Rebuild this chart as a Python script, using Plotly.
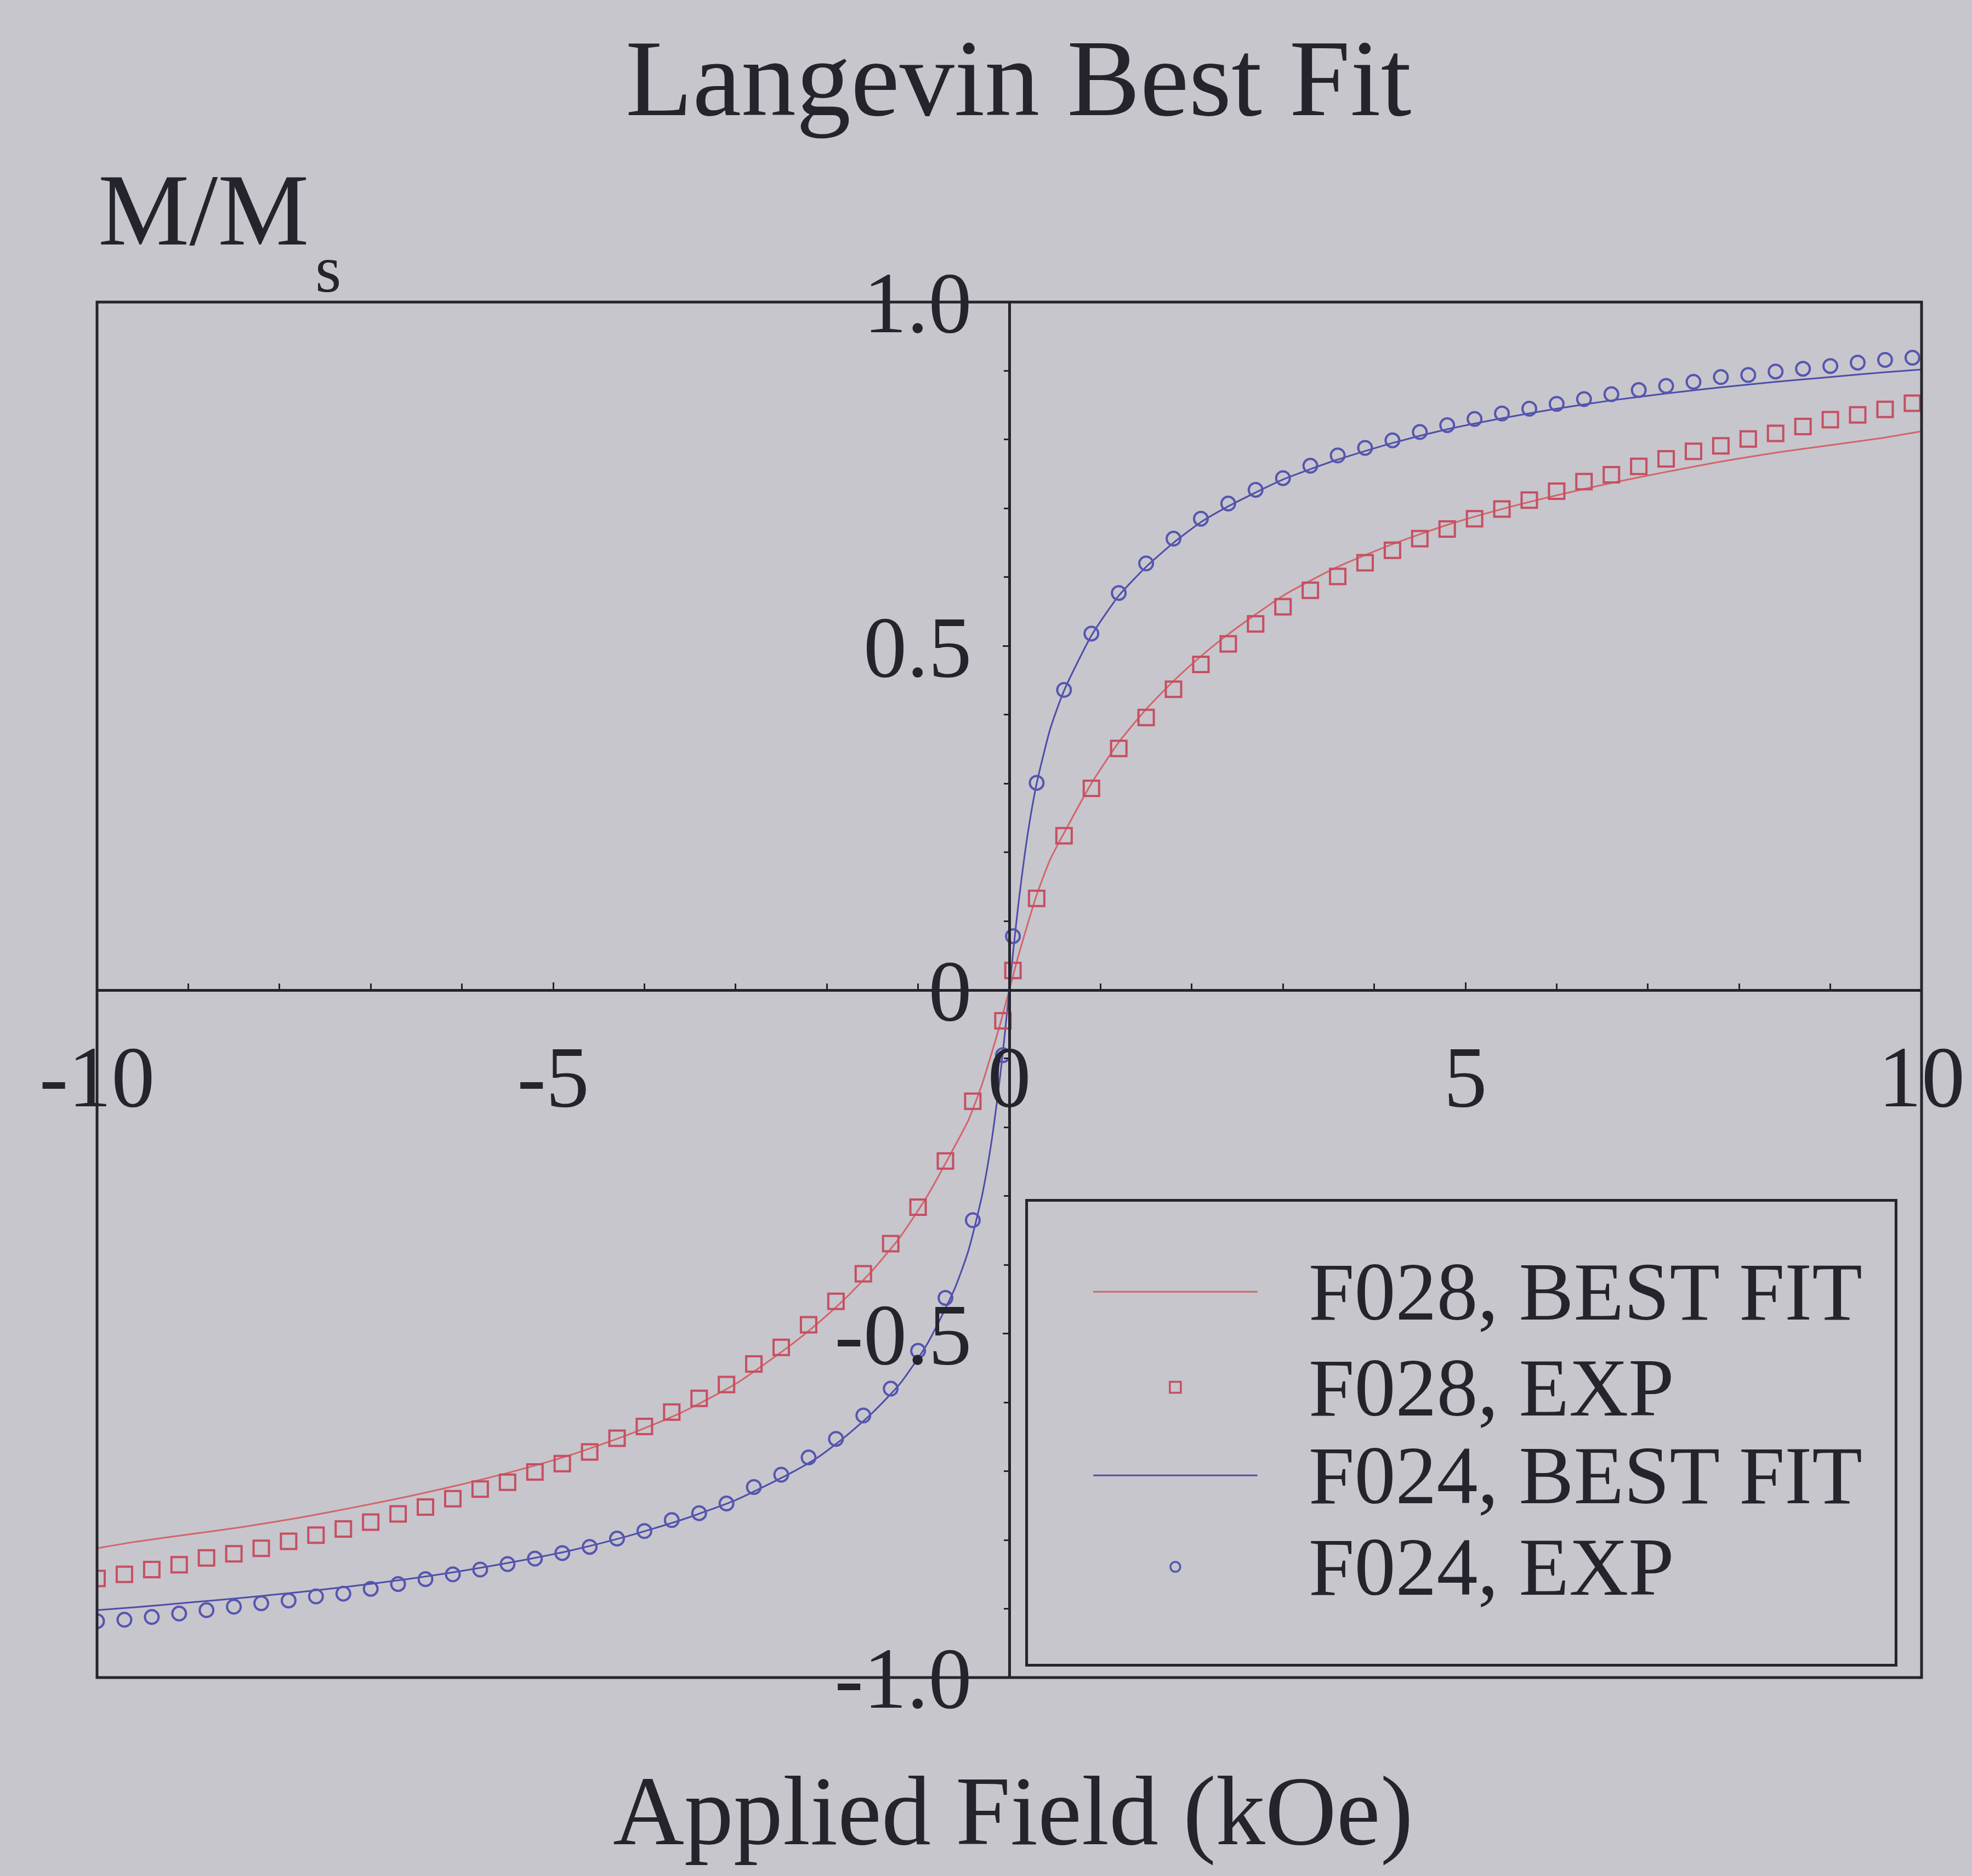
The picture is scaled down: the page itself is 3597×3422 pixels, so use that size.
import plotly.graph_objects as go

# ---------------- data ----------------
# Applied field (kOe) at which the magnetisation was measured
field_exp = [
    -10.0, -9.7, -9.4, -9.1, -8.8, -8.5, -8.2, -7.9, -7.6, -7.3, -7.0, -6.7,
    -6.4, -6.1, -5.8, -5.5, -5.2, -4.9, -4.6, -4.3, -4.0, -3.7, -3.4, -3.1,
    -2.8, -2.5, -2.2, -1.9, -1.6, -1.3, -1.0, -0.7, -0.4, -0.07,
    0.04, 0.3, 0.6, 0.9, 1.2, 1.5, 1.8, 2.1, 2.4, 2.7, 3.0, 3.3, 3.6, 3.9,
    4.2, 4.5, 4.8, 5.1, 5.4, 5.7, 6.0, 6.3, 6.6, 6.9, 7.2, 7.5, 7.8, 8.1,
    8.4, 8.7, 9.0, 9.3, 9.6, 9.9,
]

# F028 measured M/Ms
f028_exp = [
    -0.856, -0.850, -0.843, -0.836, -0.826, -0.820, -0.812, -0.802, -0.793,
    -0.784, -0.774, -0.762, -0.752, -0.740, -0.726, -0.716, -0.701, -0.689,
    -0.672, -0.652, -0.635, -0.614, -0.594, -0.574, -0.544, -0.520, -0.487,
    -0.453, -0.413, -0.369, -0.316, -0.249, -0.162, -0.045,
    0.028, 0.133, 0.224, 0.293, 0.351, 0.396, 0.437, 0.473, 0.503, 0.532,
    0.557, 0.581, 0.601, 0.621, 0.639, 0.656, 0.670, 0.685, 0.699, 0.712,
    0.725, 0.739, 0.749, 0.761, 0.772, 0.783, 0.791, 0.801, 0.809, 0.819,
    0.829, 0.836, 0.844, 0.853,
]

# F024 measured M/Ms
f024_exp = [
    -0.918, -0.916, -0.912, -0.907, -0.902, -0.897, -0.892, -0.888, -0.882,
    -0.878, -0.871, -0.864, -0.857, -0.850, -0.843, -0.835, -0.827, -0.819,
    -0.810, -0.798, -0.787, -0.771, -0.761, -0.747, -0.723, -0.705, -0.680,
    -0.653, -0.619, -0.580, -0.525, -0.448, -0.335, -0.095,
    0.078, 0.301, 0.436, 0.518, 0.577, 0.620, 0.656, 0.685, 0.707, 0.727,
    0.744, 0.762, 0.777, 0.788, 0.799, 0.811, 0.821, 0.830, 0.838, 0.845,
    0.852, 0.859, 0.866, 0.872, 0.878, 0.884, 0.891, 0.894, 0.899, 0.903,
    0.907, 0.912, 0.916, 0.919,
]

# Field values of the best-fit curves
field_fit = [
    -10.0, -9.6, -9.0, -8.4, -7.8, -7.2, -6.6, -6.0, -5.4, -4.8, -4.2, -3.6,
    -3.0, -2.4, -2.1, -1.8, -1.5, -1.2, -0.9, -0.6, -0.45, -0.3, -0.2, -0.1,
    -0.05, 0.0, 0.05, 0.1, 0.2, 0.3, 0.45, 0.6, 0.9, 1.2, 1.5, 1.8, 2.1, 2.4,
    3.0, 3.6, 4.2, 4.8, 5.4, 6.0, 6.6, 7.2, 7.8, 8.4, 9.0, 9.6, 10.0,
]

f028_fit = [
    -0.812, -0.803, -0.792, -0.781, -0.768, -0.753, -0.737, -0.719, -0.699,
    -0.676, -0.648, -0.615, -0.573, -0.517, -0.485, -0.449, -0.408, -0.360,
    -0.300, -0.228, -0.190, -0.138, -0.095, -0.050, -0.025, 0.0, 0.025, 0.050,
    0.095, 0.138, 0.190, 0.228, 0.300, 0.360, 0.408, 0.449, 0.485, 0.517,
    0.573, 0.615, 0.648, 0.676, 0.699, 0.719, 0.737, 0.753, 0.768, 0.781,
    0.792, 0.803, 0.812,
]

f024_fit = [
    -0.902, -0.898, -0.891, -0.884, -0.876, -0.867, -0.857, -0.845, -0.831,
    -0.815, -0.795, -0.771, -0.742, -0.703, -0.680, -0.650, -0.615, -0.573,
    -0.515, -0.435, -0.380, -0.300, -0.225, -0.125, -0.065, 0.0, 0.065, 0.125,
    0.225, 0.300, 0.380, 0.435, 0.515, 0.573, 0.615, 0.650, 0.680, 0.703,
    0.742, 0.771, 0.795, 0.815, 0.831, 0.845, 0.857, 0.867, 0.876, 0.884,
    0.891, 0.898, 0.902,
]

series_names = ["F028, BEST FIT", "F028, EXP", "F024, BEST FIT", "F024, EXP"]
x_tick_vals = [-10, -5, 0, 5, 10]
x_tick_text = ["-10", "-5", "0", "5", "10"]
y_tick_vals = [-1.0, -0.5, 0.0, 0.5, 1.0]
y_tick_text = ["-1.0", "-0.5", "0", "0.5", "1.0"]

# ---------------- style ----------------
BG = "#c7c6cd"
INK = "#24242c"
RED_LINE = "#d2666a"
RED_MARK = "#c64f62"
BLUE_LINE = "#4e4ea8"
BLUE_MARK = "#5656b0"
SERIF = "Liberation Serif"

fig = go.Figure()

fig.add_trace(go.Scatter(
    x=field_fit, y=f028_fit, mode="lines", name=series_names[0],
    line=dict(color=RED_LINE, width=3, shape="spline", smoothing=0.6),
    showlegend=False,
))
fig.add_trace(go.Scatter(
    x=field_fit, y=f024_fit, mode="lines", name=series_names[2],
    line=dict(color=BLUE_LINE, width=3, shape="spline", smoothing=0.6),
    showlegend=False,
))
fig.add_trace(go.Scatter(
    x=field_exp, y=f028_exp, mode="markers", name=series_names[1],
    marker=dict(symbol="square-open", size=28, color=RED_MARK,
                line=dict(width=4, color=RED_MARK)),
    showlegend=False,
))
fig.add_trace(go.Scatter(
    x=field_exp, y=f024_exp, mode="markers", name=series_names[3],
    marker=dict(symbol="circle-open", size=25, color=BLUE_MARK,
                line=dict(width=4, color=BLUE_MARK)),
    showlegend=False,
))

tick_font = dict(family=SERIF, size=158, color=INK)

fig.update_layout(
    width=3597, height=3422,
    margin=dict(l=177, r=92, t=551, b=362),
    paper_bgcolor=BG, plot_bgcolor=BG,
    xaxis=dict(
        range=[-10, 10], anchor="free", position=0.5,
        showline=True, linecolor=INK, linewidth=5,
        showgrid=False, zeroline=False,
        tickvals=x_tick_vals, ticktext=x_tick_text,
        ticks="inside", ticklen=12, tickwidth=3, tickcolor=INK,
        minor=dict(dtick=1, ticks="inside", ticklen=10, tickwidth=3,
                   tickcolor=INK, showgrid=False),
        tickfont=tick_font, ticklabelstandoff=20,
    ),
    yaxis=dict(
        range=[-1, 1], anchor="free", position=0.5,
        showline=True, linecolor=INK, linewidth=5,
        showgrid=False, zeroline=False,
        tickvals=y_tick_vals, ticktext=y_tick_text,
        ticks="outside", ticklen=10, tickwidth=3, tickcolor=INK,
        minor=dict(dtick=0.1, ticks="outside", ticklen=8, tickwidth=3,
                   tickcolor=INK, showgrid=False),
        tickfont=tick_font, ticklabelstandoff=25,
    ),
    showlegend=False,
)

# outer frame of the plotting area
fig.add_shape(type="rect", xref="paper", yref="paper", x0=0, x1=1, y0=0, y1=1,
              line=dict(color=INK, width=5), layer="above")

# legend box
fig.add_shape(type="rect", xref="x", yref="y", x0=0.19, x1=9.72,
              y0=-0.982, y1=-0.306, line=dict(color=INK, width=5),
              fillcolor=BG, layer="above")

legend_rows = [-0.439, -0.578, -0.706, -0.839]
sample_x0, sample_x1, sample_xc, text_x = 0.92, 2.72, 1.82, 3.27

# line samples
fig.add_shape(type="line", xref="x", yref="y", x0=sample_x0, x1=sample_x1,
              y0=legend_rows[0], y1=legend_rows[0],
              line=dict(color=RED_LINE, width=3), layer="above")
fig.add_shape(type="line", xref="x", yref="y", x0=sample_x0, x1=sample_x1,
              y0=legend_rows[2], y1=legend_rows[2],
              line=dict(color=BLUE_LINE, width=3), layer="above")
# marker samples (pixel-sized)
fig.add_shape(type="rect", xref="x", yref="y", xsizemode="pixel",
              ysizemode="pixel", xanchor=sample_xc, yanchor=legend_rows[1],
              x0=-10, x1=10, y0=-10, y1=10,
              line=dict(color=RED_MARK, width=3.5), layer="above")
fig.add_shape(type="circle", xref="x", yref="y", xsizemode="pixel",
              ysizemode="pixel", xanchor=sample_xc, yanchor=legend_rows[3],
              x0=-9, x1=9, y0=-9, y1=9,
              line=dict(color=BLUE_MARK, width=3.5), layer="above")

for name, row in zip(series_names, legend_rows):
    fig.add_annotation(x=text_x, y=row, xref="x", yref="y", text=name,
                       showarrow=False, xanchor="left", yanchor="middle",
                       font=dict(family=SERIF, size=150, color=INK))

# title and axis labels
fig.add_annotation(x=0.505, y=1.163, xref="paper", yref="paper",
                   text="Langevin Best Fit", showarrow=False,
                   xanchor="center", yanchor="middle",
                   font=dict(family=SERIF, size=200, color=INK))
fig.add_annotation(x=0.0, y=1.067, xref="paper", yref="paper",
                   text="M/M", showarrow=False,
                   xanchor="left", yanchor="middle",
                   font=dict(family=SERIF, size=187, color=INK))
fig.add_annotation(x=0.119, y=1.024, xref="paper", yref="paper",
                   text="s", showarrow=False,
                   xanchor="left", yanchor="middle",
                   font=dict(family=SERIF, size=122, color=INK))
fig.add_annotation(x=0.502, y=-0.097, xref="paper", yref="paper",
                   text="Applied Field (kOe)", showarrow=False,
                   xanchor="center", yanchor="middle",
                   font=dict(family=SERIF, size=180, color=INK))

fig.write_html("out.html")
